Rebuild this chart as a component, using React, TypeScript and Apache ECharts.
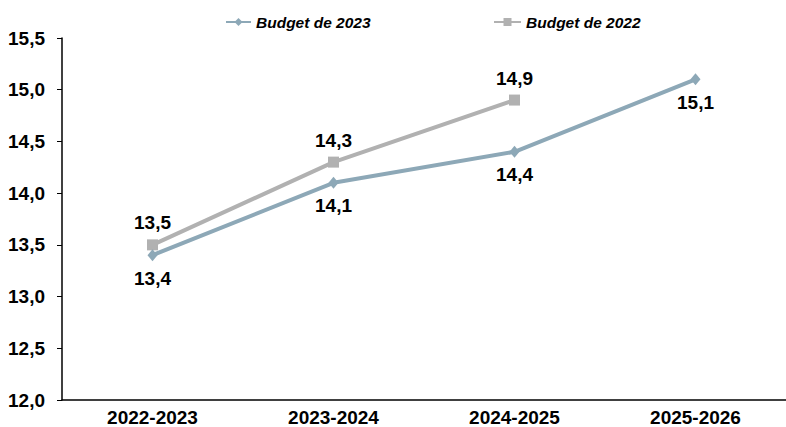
import React, { useEffect, useRef } from "react";
import * as echarts from "echarts";

const categories = ["2022-2023", "2023-2024", "2024-2025", "2025-2026"];
const budget2023 = [13.4, 14.1, 14.4, 15.1];
const budget2022 = [13.5, 14.3, 14.9, null];
const seriesNames = ["Budget de 2023", "Budget de 2022"];
const yMin = 12;
const yMax = 15.5;
const yInterval = 0.5;

const FONT = "'Liberation Sans', Arial, sans-serif";
const fmt = (v: number) => v.toFixed(1).replace(".", ",");

export default function App() {
  const ref = useRef<HTMLDivElement>(null);
  useEffect(() => {
    if (!ref.current) return;
    const chart = echarts.init(ref.current, null, { renderer: "svg" });
    const blue = "#8DA8B7";
    const grey = "#B1B1B1";
    const legendText = { fontFamily: FONT, fontSize: 15.5, fontWeight: "bold", fontStyle: "italic", color: "#000" };
    const labelText = { color: "#000", fontFamily: FONT, fontSize: 19, fontWeight: "bold" };
    chart.setOption({
      animation: false,
      backgroundColor: "#ffffff",
      textStyle: { fontFamily: FONT },
      legend: [
        {
          data: [seriesNames[0]],
          left: 220,
          top: 9,
          itemWidth: 25,
          itemHeight: 10,
          textStyle: legendText,
        },
        {
          data: [seriesNames[1]],
          left: 488,
          top: 9,
          itemWidth: 27,
          itemHeight: 10,
          textStyle: legendText,
        },
      ],
      grid: { left: 62, top: 38, bottom: 25, width: 728, containLabel: false },
      xAxis: {
        type: "category",
        data: categories,
        boundaryGap: true,
        axisLine: { lineStyle: { color: "#000", width: 1.5 } },
        axisTick: { alignWithLabel: true, length: 5, lineStyle: { color: "#000", width: 1 } },
        axisLabel: { ...labelText, margin: 8 },
        splitLine: { show: false },
      },
      yAxis: {
        type: "value",
        min: yMin,
        max: yMax,
        interval: yInterval,
        axisLine: { show: true, lineStyle: { color: "#000", width: 1.5 } },
        axisTick: { show: true, length: 5, lineStyle: { color: "#000", width: 1 } },
        axisLabel: {
          ...labelText,
          margin: 17,
          formatter: (v: number) => fmt(v),
        },
        splitLine: { show: false },
      },
      series: [
        {
          name: seriesNames[0],
          type: "line",
          data: budget2023,
          symbol: "diamond",
          symbolSize: [10, 12],
          lineStyle: { color: blue, width: 4 },
          itemStyle: { color: blue },
          z: 3,
          label: {
            show: true,
            position: "bottom",
            distance: 7.5,
            ...labelText,
            formatter: (p: any) => fmt(p.value),
          },
        },
        {
          name: seriesNames[1],
          type: "line",
          data: budget2022,
          symbol: "rect",
          symbolSize: 11,
          lineStyle: { color: grey, width: 4 },
          itemStyle: { color: grey },
          z: 2,
          label: {
            show: true,
            position: "top",
            distance: 7,
            ...labelText,
            formatter: (p: any) => fmt(p.value),
          },
        },
      ],
    });
    return () => chart.dispose();
  }, []);
  return (
    <div
      ref={ref}
      style={{ position: "fixed", left: 0, top: 0, width: 786, height: 427, background: "#fff" }}
    />
  );
}
